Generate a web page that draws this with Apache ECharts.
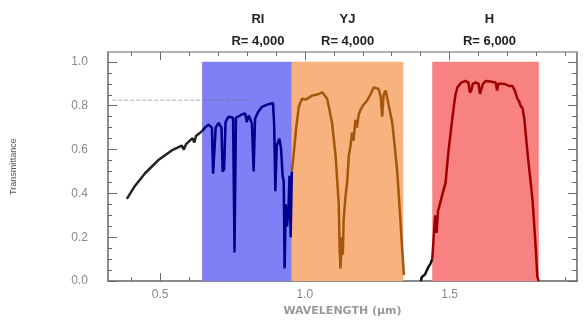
<!DOCTYPE html>
<html>
<head>
<meta charset="utf-8">
<script src="https://cdn.jsdelivr.net/npm/echarts@6/dist/echarts.min.js"></script>
<style>
  html, body { margin: 0; padding: 0; background: #fff; }
  #chart { width: 588px; height: 322px; }
</style>
</head>
<body>
<div id="chart"></div>
<script>
  // 光谱带（波长 µm）
  var bandNames = ['RI', 'YJ', 'H'];
  var bandRes = ['R= 4,000', 'R= 4,000', 'R= 6,000'];
  var bandStart = [0.645, 0.955, 1.44];
  var bandEnd = [0.955, 1.34, 1.808];
  var bandFill = ['#8080f6', '#f8b27e', '#f88282'];

  // 透过率曲线，按颜色分段 [波长, 透过率]
  var visCurve = [[0.385, 0.375], [0.413, 0.434], [0.448, 0.492], [0.494, 0.552], [0.54, 0.596],
    [0.575, 0.618], [0.582, 0.600], [0.59, 0.625], [0.612, 0.652], [0.618, 0.632], [0.624, 0.662],
    [0.645, 0.684]];
  var riCurve = [[0.645, 0.684], [0.655, 0.700], [0.667, 0.714], [0.679, 0.700], [0.683, 0.49],
    [0.688, 0.49], [0.692, 0.700], [0.702, 0.721], [0.712, 0.700], [0.716, 0.50], [0.721, 0.51],
    [0.726, 0.725], [0.736, 0.750], [0.752, 0.745], [0.757, 0.131], [0.762, 0.745], [0.768, 0.752],
    [0.782, 0.760], [0.794, 0.765], [0.799, 0.725], [0.806, 0.755], [0.817, 0.720], [0.823, 0.50],
    [0.828, 0.740], [0.838, 0.770], [0.852, 0.795], [0.870, 0.805], [0.890, 0.812], [0.894, 0.710],
    [0.898, 0.41], [0.903, 0.62], [0.912, 0.650], [0.918, 0.600], [0.923, 0.480], [0.927, 0.456],
    [0.930, 0.058], [0.934, 0.350], [0.938, 0.250], [0.943, 0.310], [0.947, 0.480], [0.951, 0.200],
    [0.955, 0.500]];
  var yjCurve = [[0.955, 0.500], [0.961, 0.574], [0.970, 0.700], [0.979, 0.795], [0.990, 0.832],
    [1.003, 0.828], [1.025, 0.846], [1.045, 0.852], [1.060, 0.861], [1.077, 0.832], [1.094, 0.721],
    [1.106, 0.574], [1.117, 0.353], [1.120, 0.150], [1.123, 0.058], [1.128, 0.200], [1.131, 0.120],
    [1.134, 0.279], [1.140, 0.382], [1.146, 0.450], [1.152, 0.574], [1.158, 0.620], [1.163, 0.677],
    [1.168, 0.640], [1.175, 0.736], [1.180, 0.700], [1.186, 0.760], [1.192, 0.780], [1.200, 0.800],
    [1.215, 0.824], [1.226, 0.850], [1.238, 0.884], [1.246, 0.880], [1.255, 0.876], [1.262, 0.840],
    [1.267, 0.750], [1.272, 0.850], [1.279, 0.869], [1.290, 0.800], [1.302, 0.721], [1.310, 0.620],
    [1.319, 0.500], [1.325, 0.380], [1.330, 0.279], [1.336, 0.150], [1.342, 0.028]];
  var gapCurve = [[1.400, 0], [1.405, 0.020], [1.415, 0.030],
    [1.425, 0.060], [1.434, 0.080], [1.440, 0.100]];
  var hCurve = [[1.440, 0.100], [1.445, 0.200], [1.450, 0.300], [1.455, 0.220], [1.460, 0.320],
    [1.468, 0.360], [1.476, 0.400], [1.486, 0.448], [1.495, 0.580], [1.503, 0.670], [1.510, 0.750],
    [1.515, 0.800], [1.520, 0.850], [1.527, 0.884], [1.540, 0.905], [1.555, 0.913], [1.565, 0.905],
    [1.570, 0.860], [1.575, 0.870], [1.580, 0.900], [1.590, 0.906], [1.600, 0.900], [1.605, 0.854],
    [1.610, 0.860], [1.615, 0.900], [1.625, 0.913], [1.640, 0.910], [1.659, 0.906], [1.664, 0.869],
    [1.668, 0.900], [1.680, 0.900], [1.694, 0.898], [1.705, 0.890], [1.717, 0.890], [1.725, 0.870],
    [1.734, 0.832], [1.740, 0.820], [1.745, 0.800], [1.752, 0.788], [1.758, 0.740], [1.763, 0.670],
    [1.768, 0.600], [1.774, 0.522], [1.780, 0.450], [1.786, 0.375], [1.792, 0.260], [1.798, 0.139],
    [1.803, 0.020], [1.808, 0]];
  // 虚线参考水平
  var refLine = [[0.335, 0.825], [0.80, 0.825]];

  // 刻度
  var xMajor = [0.5, 1.0, 1.5];
  var xMinor = [0.4, 0.5, 0.6, 0.7, 0.8, 0.9, 1.0, 1.1, 1.2, 1.3, 1.4, 1.5, 1.6, 1.7, 1.8, 1.9];
  var yMajor = [0, 0.2, 0.4, 0.6, 0.8, 1.0];
  var yMinor = [0, 0.05, 0.1, 0.15, 0.2, 0.25, 0.3, 0.35, 0.4, 0.45, 0.5, 0.55, 0.6, 0.65, 0.7,
    0.75, 0.8, 0.85, 0.9, 0.95, 1.0];

  var chart = echarts.init(document.getElementById('chart'));
  var axisColor = '#666';
  var labelColor = '#888';

  function xAx(pos, ticks, len, withLabel) {
    return {
      type: 'value', position: pos, min: 0.32, max: 1.94,
      axisLine: { show: withLabel, onZero: false, lineStyle: { color: axisColor, width: 1.5 } },
      axisTick: { show: true, inside: true, length: len, customValues: ticks,
        lineStyle: { color: axisColor } },
      axisLabel: { show: withLabel, customValues: xMajor, margin: 8, color: labelColor,
        fontSize: 12, fontFamily: 'Liberation Sans',
        formatter: function (v) { return v.toFixed(1); } },
      splitLine: { show: false }
    };
  }
  function yAx(pos, ticks, len, withLabel) {
    return {
      type: 'value', position: pos, min: 0, max: 1.045,
      axisLine: { show: withLabel, onZero: false, lineStyle: { color: axisColor, width: 1.5 } },
      axisTick: { show: true, inside: true, length: len, customValues: ticks,
        lineStyle: { color: axisColor } },
      axisLabel: { show: withLabel && pos === 'left', customValues: yMajor, margin: 20,
        color: labelColor, fontSize: 12, fontFamily: 'Liberation Sans',
        formatter: function (v) { return v.toFixed(1); } },
      splitLine: { show: false }
    };
  }

  var xAxes = [xAx('bottom', xMinor, 4, true), xAx('bottom', xMajor, 8, false),
    xAx('top', xMinor, 4, true), xAx('top', xMajor, 8, false)];
  xAxes[0].name = 'WAVELENGTH (µm)';
  xAxes[0].nameLocation = 'middle';
  xAxes[0].nameGap = 24;
  xAxes[0].nameTextStyle = { color: '#999', fontSize: 11, fontWeight: 'bold', fontFamily: 'DejaVu Sans' };
  xAxes[2].axisLabel.show = false;
  xAxes[2].axisLine.lineStyle = { color: '#999', width: 1.5 };

  var yAxes = [yAx('left', yMinor, 4, true), yAx('left', yMajor, 9, false),
    yAx('right', yMinor, 5, true), yAx('right', yMajor, 9, false)];
  yAxes[0].name = 'Transmittance';
  yAxes[0].nameLocation = 'middle';
  yAxes[0].nameGap = 90;
  yAxes[0].nameTextStyle = { color: '#555', fontSize: 9, fontFamily: 'Liberation Sans' };

  var areas = bandNames.map(function (n, i) {
    return [{
      name: n + '\n' + bandRes[i],
      xAxis: bandStart[i], yAxis: 0,
      itemStyle: { color: bandFill[i], opacity: 1 },
      label: { offset: [i === 0 ? 11 : (i === 2 ? 4 : 0), 0] }
    }, { xAxis: bandEnd[i], yAxis: 1.0 }];
  });

  function curve(data, color, z) {
    return {
      type: 'line', data: data, xAxisIndex: 0, yAxisIndex: 0, showSymbol: false,
      animation: false, z: z || 3,
      lineStyle: { color: color, width: 2.5 }
    };
  }

  var bandSeries = {
    type: 'line', data: [], xAxisIndex: 0, yAxisIndex: 0, animation: false,
    markArea: {
      silent: true,
      data: areas,
      label: {
        show: true, position: 'top', distance: 9, color: '#222', fontSize: 13,
        fontWeight: 'bold', fontFamily: 'Liberation Sans', lineHeight: 22, align: 'center'
      }
    }
  };

  var option = {
    backgroundColor: '#fff',
    animation: false,
    grid: { left: 108, right: 11, top: 52, bottom: 34 },
    xAxis: xAxes,
    yAxis: yAxes,
    series: [
      bandSeries,
      {
        type: 'line', data: refLine, xAxisIndex: 0, yAxisIndex: 0, showSymbol: false,
        lineStyle: { color: 'rgba(110,110,110,0.55)', width: 1, type: 'dashed' }
      },
      curve(visCurve, '#222'),
      curve(riCurve, '#00008c'),
      curve(yjCurve, '#a4560c'),
      curve(gapCurve, '#111'),
      curve(hCurve, '#a00000')
    ]
  };

  chart.setOption(option);
</script>
</body>
</html>
